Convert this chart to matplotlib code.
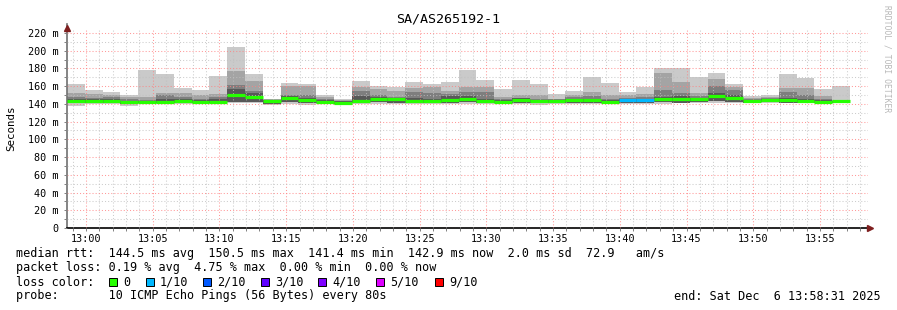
import numpy as np
import matplotlib.pyplot as plt
from matplotlib.ticker import MultipleLocator, FuncFormatter
from matplotlib.patches import Rectangle

plt.rcParams['font.family'] = 'DejaVu Sans Mono'

title = 'SA/AS265192-1'
step_s = 80          # one ping round every 80 s
start_s = -85        # first round starts 12:58:35 (seconds from 13:00:00)

# smoke: sorted ping levels per round (ms)
p10 = [162.5, 155.7, 153.4, 150.0, 178.0, 173.8, 158.0, 155.7, 171.5, 204.6,
       173.8, 145.5, 164.0, 162.5, 149.7, 145.0, 165.9, 160.2, 159.5, 164.7,
       162.5, 164.7, 178.3, 167.0, 156.8, 167.0, 162.5, 151.2, 154.6, 170.7,
       164.0, 153.4, 159.5, 180.5, 180.5, 170.7, 175.2, 162.5, 149.0, 150.0,
       173.8, 169.6, 156.8, 160.2]
p9 = [152.0, 150.8, 150.0, 147.4, 148.0, 152.7, 152.7, 150.0, 151.2, 177.0,
      166.0, 145.0, 160.0, 160.0, 147.4, 144.5, 159.5, 156.5, 155.0, 157.6,
      159.5, 155.0, 159.5, 159.5, 148.0, 150.0, 150.0, 146.0, 150.0, 153.8,
      150.0, 150.0, 151.2, 174.5, 164.7, 152.7, 167.8, 159.5, 146.3, 148.0,
      157.6, 157.6, 149.0, 144.4]
p8 = [148.0, 146.3, 147.4, 145.0, 144.4, 150.0, 147.5, 145.0, 148.0, 161.3,
      155.0, 144.5, 150.0, 150.0, 145.0, 143.5, 155.0, 150.4, 147.4, 153.8,
      152.0, 151.2, 153.8, 153.8, 145.0, 147.0, 146.0, 145.0, 147.4, 149.3,
      146.0, 147.0, 147.4, 155.7, 152.0, 149.0, 160.2, 155.7, 145.0, 146.5,
      153.8, 150.0, 146.0, 143.5]
p7 = [146.0, 145.0, 145.5, 143.5, 143.5, 146.0, 145.5, 144.0, 146.0, 156.5,
      152.0, 144.0, 148.5, 147.0, 144.0, 143.0, 149.0, 148.0, 147.0, 147.0,
      146.0, 148.5, 149.0, 146.0, 144.0, 146.5, 144.5, 144.0, 146.0, 146.0,
      144.0, 145.5, 146.0, 148.0, 148.5, 147.0, 152.0, 150.0, 144.5, 145.5,
      147.0, 146.0, 144.0, 143.0]
median = [143.0, 143.8, 143.0, 141.8, 142.2, 142.5, 143.6, 142.5, 142.2, 150.5,
          147.4, 143.0, 146.3, 144.8, 142.2, 141.4, 143.0, 145.5, 146.0, 143.7,
          143.0, 144.4, 146.0, 143.3, 142.2, 144.8, 143.0, 143.3, 144.4, 144.0,
          142.5, 144.0, 144.8, 145.2, 146.0, 145.5, 149.3, 146.7, 143.7, 144.8,
          144.0, 143.0, 142.2, 142.9]
p3 = [141.0, 141.5, 141.0, 140.0, 140.5, 141.0, 141.5, 141.0, 141.0, 142.0,
      142.0, 140.0, 142.0, 141.0, 141.0, 140.0, 141.0, 142.0, 141.5, 141.0,
      141.0, 141.0, 142.0, 141.0, 141.0, 141.5, 140.5, 141.0, 141.5, 141.0,
      141.0, 141.5, 141.5, 142.0, 141.5, 142.0, 143.0, 142.0, 141.5, 142.0,
      141.5, 141.5, 141.0, 141.5]
p1 = [138.0, 140.0, 140.0, 138.0, 139.5, 139.5, 140.0, 140.0, 140.0, 140.7,
      140.7, 138.4, 140.0, 138.4, 140.0, 138.4, 140.0, 139.5, 140.0, 140.0,
      140.0, 140.0, 140.0, 139.5, 140.0, 140.0, 138.4, 140.0, 140.0, 140.0,
      140.0, 140.0, 140.0, 140.0, 140.7, 140.7, 141.3, 140.7, 140.7, 140.7,
      140.7, 140.7, 140.7, 140.7]
loss = [0, 0, 0, 0, 0, 0, 0, 0, 0, 0, 0, 0, 0, 0, 0, 0, 0, 0, 0, 0,
        0, 0, 0, 0, 0, 0, 0, 0, 0, 0, 0, 1, 1, 0, 0, 0, 0, 0, 0, 0,
        0, 0, 0, 0]

loss_labels = ['0', '1/10', '2/10', '3/10', '4/10', '5/10', '9/10']
loss_colors = ['#26ff00', '#00b8ff', '#0059ff', '#5e00ff', '#7e00ff', '#dd00ff', '#ff0000']

legend_lines = [
    'median rtt:  144.5 ms avg  150.5 ms max  141.4 ms min  142.9 ms now  2.0 ms sd  72.9   am/s',
    'packet loss: 0.19 % avg  4.75 % max  0.00 % min  0.00 % now',
    'loss color:',
    'probe:       10 ICMP Echo Pings (56 Bytes) every 80s',
]
end_text = 'end: Sat Dec  6 13:58:31 2025'

W, H = 897, 310
fig = plt.figure(figsize=(W / 100, H / 100), dpi=100, facecolor='white')
ax = fig.add_axes([67 / W, 1 - 228 / H, (868 - 67) / W, (228 - 28) / H])

n = len(median)
edges = (start_s + step_s * np.arange(n + 1)) / 60.0


def ext(v):
    v = np.asarray(v, dtype=float)
    return np.append(v, v[-1])


ax.fill_between(edges, ext(p1), ext(p10), step='post', color='#cacaca', lw=0, zorder=1)
ax.fill_between(edges, ext(p3), ext(p9), step='post', color='#a4a4a4', lw=0, zorder=1)
ax.fill_between(edges, ext(p3), ext(p8), step='post', color='#7e7e7e', lw=0, zorder=1)
ax.fill_between(edges, ext(p3), ext(p7), step='post', color='#585858', lw=0, zorder=1)

for i in range(n):
    ax.plot([edges[i], edges[i + 1]], [median[i], median[i]],
            color=loss_colors[loss[i]], lw=2.3, solid_capstyle='butt', zorder=3)

ax.set_xlim((67 - 86) / 13.345, (868 - 86) / 13.345)
ax.set_ylim(0, 225.6)

ax.xaxis.set_major_locator(MultipleLocator(5))
ax.xaxis.set_minor_locator(MultipleLocator(1))
ax.yaxis.set_major_locator(MultipleLocator(20))
ax.yaxis.set_minor_locator(MultipleLocator(10))
ax.xaxis.set_major_formatter(FuncFormatter(lambda v, p: '13:%02d' % int(round(v))))
ax.yaxis.set_major_formatter(FuncFormatter(lambda v, p: '0' if v == 0 else '%d m' % v))

ax.grid(True, which='minor', color='#c0c0c0', ls=(0, (1, 2)), lw=0.75, alpha=0.8)
ax.grid(True, which='major', color='#ff8080', ls=(0, (1, 2)), lw=0.75, alpha=0.8)
ax.set_axisbelow(False)

ax.tick_params(axis='both', which='major', labelsize=7.3, length=2.5, width=0.7,
               color='#808080', pad=1.5)
ax.tick_params(axis='both', which='minor', length=2, width=0.7, color='#808080')
ax.tick_params(axis='y', pad=3.5)

for s in ['top', 'right']:
    ax.spines[s].set_visible(False)
ax.spines['left'].set_color('#707070')
ax.spines['bottom'].set_color('black')
ax.spines['left'].set_linewidth(1.2)
ax.spines['bottom'].set_linewidth(1.2)

# axis arrows
ax.plot([0], [1.0], marker='^', color='#7f1f1f', ms=4.5, transform=ax.transAxes,
        clip_on=False, zorder=5)
ax.plot([1.003], [0], marker='>', color='#7f1f1f', ms=4.5, transform=ax.transAxes,
        clip_on=False, zorder=5)
ax.plot([0, 0], [1.0, 1.02], color='#707070', lw=1.2, transform=ax.transAxes, clip_on=False)

fig.text(448 / W, 1 - 19 / H, title, ha='center', va='center', fontsize=9.6)
fig.text(11 / W, 1 - 128 / H, 'Seconds', rotation=90, ha='center', va='center', fontsize=7.8)
fig.text(887 / W, 1 - 5 / H, 'RRDTOOL / TOBI OETIKER', rotation=270, ha='center', va='top',
         fontsize=5.8, color='#b8b8b8')

line_y = [254, 268, 282, 296]
for txt, y in zip(legend_lines, line_y):
    fig.text(16 / W, 1 - y / H, txt, ha='left', va='center', fontsize=8.5)
fig.text(881 / W, 1 - 296 / H, end_text, ha='right', va='center', fontsize=8.5)

swatch_x = [109, 146, 203, 261, 318, 376, 435]
for x, lab, col in zip(swatch_x, loss_labels, loss_colors):
    fig.patches.append(Rectangle((x / W, 1 - 286 / H), 8 / W, 8 / H, transform=fig.transFigure,
                                 facecolor=col, edgecolor='black', lw=0.7))
    fig.text((x + 14) / W, 1 - 282 / H, lab, ha='left', va='center', fontsize=8.5)

fig.savefig('out.png', dpi=100, facecolor='white')
